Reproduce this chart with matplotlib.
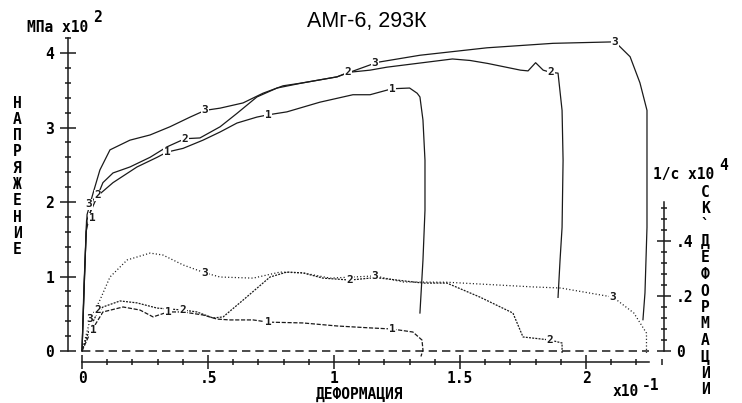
"""AMg-6 at 293K: stress and strain-rate vs deformation."""

import matplotlib.pyplot as plt
from matplotlib.ticker import MultipleLocator, FixedLocator, FixedFormatter

plt.rcParams["font.family"] = ["DejaVu Sans Mono"]
plt.rcParams["font.weight"] = "bold"
plt.rcParams["lines.scale_dashes"] = False

INK = "#1a1a1a"

# stress curves, x in 1e-1, y in 1e2 MPa
s1_x = [0, 0.008, 0.016, 0.044, 0.123, 0.218, 0.298, 0.337, 0.401, 0.480, 0.548, 0.615, 0.694,
        0.738, 0.813, 0.944, 1.075, 1.143, 1.23, 1.30, 1.33, 1.341, 1.353, 1.361, 1.361, 1.353, 1.341]
s1_y = [0, 0.8, 1.6, 2.03, 2.26, 2.47, 2.60, 2.67, 2.72, 2.83, 2.94, 3.06, 3.14,
        3.17, 3.21, 3.34, 3.44, 3.44, 3.52, 3.53, 3.46, 3.41, 3.10, 2.56, 1.89, 1.22, 0.51]

s2_x = [0, 0.008, 0.018, 0.06, 0.083, 0.123, 0.190, 0.270, 0.337, 0.409, 0.468, 0.548, 0.615,
        0.694, 0.774, 0.877, 1.012, 1.056, 1.143, 1.21, 1.47, 1.54, 1.61, 1.74, 1.77, 1.80,
        1.83, 1.86, 1.889, 1.905, 1.909, 1.905, 1.897, 1.889]
s2_y = [0, 0.8, 1.75, 2.07, 2.26, 2.39, 2.47, 2.60, 2.74, 2.85, 2.86, 3.01, 3.19,
        3.41, 3.53, 3.60, 3.68, 3.74, 3.77, 3.81, 3.92, 3.90, 3.86, 3.77, 3.76, 3.87,
        3.77, 3.74, 3.73, 3.23, 2.56, 1.66, 1.22, 0.72]

s3_x = [0, 0.008, 0.02, 0.044, 0.071, 0.111, 0.190, 0.270, 0.349, 0.429, 0.488, 0.548, 0.639,
        0.718, 0.798, 0.877, 1.012, 1.143, 1.163, 1.341, 1.607, 1.869, 2.115, 2.175, 2.214,
        2.242, 2.242, 2.242, 2.234, 2.226]
s3_y = [0, 0.9, 1.83, 2.12, 2.43, 2.70, 2.83, 2.90, 3.01, 3.14, 3.23, 3.26, 3.33,
        3.46, 3.56, 3.60, 3.68, 3.84, 3.87, 3.97, 4.07, 4.13, 4.15, 3.95, 3.60,
        3.23, 2.56, 1.66, 0.78, 0.42]

# strain-rate curves, y in 1e4 1/s
r1_x = [0, 0.032, 0.083, 0.163, 0.230, 0.282, 0.341, 0.40, 0.480, 0.536, 0.587, 0.679, 0.738,
        0.877, 1.012, 1.143, 1.230, 1.313, 1.349, 1.353, 1.345]
r1_y = [0, 0.065, 0.142, 0.16, 0.149, 0.124, 0.142, 0.142, 0.131, 0.116, 0.113, 0.113, 0.105,
        0.102, 0.091, 0.084, 0.08, 0.069, 0.04, 0.004, -0.02]

r2_x = [0, 0.03, 0.06, 0.083, 0.151, 0.218, 0.298, 0.401, 0.456, 0.520, 0.560, 0.639, 0.746,
        0.813, 0.877, 0.956, 1.063, 1.143, 1.183, 1.353, 1.448, 1.579, 1.710, 1.750, 1.857,
        1.905, 1.905]
r2_y = [0, 0.08, 0.138, 0.16, 0.182, 0.175, 0.156, 0.149, 0.142, 0.12, 0.124, 0.185, 0.269,
        0.287, 0.284, 0.265, 0.258, 0.265, 0.265, 0.247, 0.247, 0.196, 0.138, 0.051, 0.040,
        0.029, -0.007]

r3_x = [0, 0.032, 0.071, 0.111, 0.179, 0.270, 0.321, 0.401, 0.488, 0.548, 0.679, 0.786, 0.877,
        0.984, 1.163, 1.274, 1.45, 1.79, 1.90, 2.107, 2.19, 2.24, 2.24]
r3_y = [0, 0.113, 0.185, 0.269, 0.331, 0.356, 0.349, 0.313, 0.284, 0.269, 0.265, 0.287, 0.284,
        0.265, 0.273, 0.251, 0.25, 0.233, 0.229, 0.196, 0.138, 0.065, -0.007]

# curve number tags: (text, x, y)
stress_tags = [("1", 0.04, 1.78), ("3", 0.028, 1.97), ("2", 0.062, 2.09),
               ("1", 0.337, 2.67), ("2", 0.409, 2.85), ("3", 0.488, 3.23),
               ("1", 0.738, 3.17), ("2", 1.056, 3.74), ("3", 1.163, 3.87),
               ("1", 1.23, 3.52), ("2", 1.86, 3.74), ("3", 2.115, 4.15)]
rate_tags = [("1", 0.044, 0.076), ("3", 0.03, 0.118), ("2", 0.062, 0.15),
             ("1", 0.341, 0.142), ("2", 0.401, 0.149), ("3", 0.488, 0.284),
             ("1", 0.738, 0.105), ("2", 1.063, 0.258), ("3", 1.163, 0.273),
             ("1", 1.23, 0.08), ("2", 1.857, 0.04), ("3", 2.107, 0.196)]

x_ticks = [0, 0.5, 1, 1.5, 2]
x_labels = ["0", ".5", "1", "1.5", "2"]
left_ticks = [0, 1, 2, 3, 4]
right_ticks = [0, 0.2, 0.4]
right_labels = ["0", ".2", ".4"]

W, H = 742, 403
fig = plt.figure(figsize=(W / 100, H / 100), dpi=100)
ax = fig.add_axes([68 / W, 1 - 362 / H, 596 / W, 325 / H])
ax.set_xlim(-0.0556, 2.3095)
ax.set_ylim(-0.1477, 4.215)
rt = ax.twinx()
rt.set_ylim(-0.04, 1.1418)

for sp in ["top", "right"]:
    ax.spines[sp].set_visible(False)
for sp in ["top", "left", "bottom"]:
    rt.spines[sp].set_visible(False)
ax.spines["left"].set_bounds(0, 4.2)
ax.spines["bottom"].set_bounds(0, 2.25)
rt.spines["right"].set_bounds(0, 0.54)
for s in [ax.spines["left"], ax.spines["bottom"], rt.spines["right"]]:
    s.set_color(INK)
    s.set_linewidth(1.1)

ax.xaxis.set_major_locator(FixedLocator(x_ticks))
ax.xaxis.set_major_formatter(FixedFormatter(x_labels))
ax.xaxis.set_minor_locator(MultipleLocator(0.1))
ax.yaxis.set_major_locator(FixedLocator(left_ticks))
ax.yaxis.set_minor_locator(FixedLocator([i * 0.2 for i in range(22)]))
rt.yaxis.set_major_locator(FixedLocator(right_ticks))
rt.yaxis.set_major_formatter(FixedFormatter(right_labels))
rt.yaxis.set_minor_locator(FixedLocator([i * 0.04 for i in range(14)]))

ax.tick_params(axis="x", which="major", direction="inout", length=9.5, width=1.1, pad=1.5,
               labelsize=10.5, color=INK)
ax.tick_params(axis="x", which="minor", direction="inout", length=4, width=1.1, color=INK)
ax.tick_params(axis="y", which="major", direction="inout", length=12, width=1.1, pad=4,
               labelsize=10.5, color=INK)
ax.tick_params(axis="y", which="minor", direction="inout", length=5, width=1.1, color=INK)
rt.tick_params(axis="y", which="major", direction="inout", length=10.5, width=1.1, pad=3.5,
               labelsize=10.5, color=INK)
rt.tick_params(axis="y", which="minor", direction="inout", length=4, width=1.1, color=INK)

ax.plot([0, 2.25], [0, 0], color=INK, lw=1.1, ls=(0, (6, 3.6)))

for xs, ys in [(s1_x, s1_y), (s2_x, s2_y), (s3_x, s3_y)]:
    ax.plot(xs, ys, color=INK, lw=0.9)

rt.plot(r1_x, r1_y, color=INK, lw=0.9, ls=(0, (3, 1.2)))
rt.plot(r2_x, r2_y, color=INK, lw=0.9, ls=(0, (1.4, 0.9)))
rt.plot(r3_x, r3_y, color=INK, lw=0.9, ls=(0, (0.8, 1.6)))

box = dict(facecolor="white", edgecolor="none", pad=0.3)
for t, x, y in stress_tags:
    ax.text(x, y, t, fontsize=8, ha="center", va="center", color=INK, bbox=box)
for t, x, y in rate_tags:
    rt.text(x, y, t, fontsize=8, ha="center", va="center", color=INK, bbox=box)

# titles and stacked axis names
fig.text(367 / W, 1 - 21 / H, "АМг-6, 293К", family="Liberation Sans", weight="normal",
         fontsize=15.5, ha="center", va="center")
fig.text(27 / W, 1 - 28 / H, "МПа x10", fontsize=10.5, ha="left", va="center")
fig.text(93 / W, 1 - 17 / H, "2", fontsize=10.5, ha="left", va="center")
fig.text(653 / W, 1 - 174 / H, "1/c x10", fontsize=10.5, ha="left", va="center")
fig.text(719 / W, 1 - 165 / H, "4", fontsize=10.5, ha="left", va="center")
fig.text(359 / W, 1 - 394 / H, "ДЕФОРМАЦИЯ", fontsize=10.5, ha="center", va="center")
fig.text(613 / W, 1 - 392 / H, "x10", fontsize=10.5, ha="left", va="center")
fig.text(642 / W, 1 - 385 / H, "-1", fontsize=10.5, ha="left", va="center")

for i, ch in enumerate("НАПРЯЖЕНИЕ"):
    fig.text(17 / W, 1 - (103 + 16.3 * i) / H, ch, fontsize=10.5, ha="center", va="center")
for i, ch in enumerate("СК`ДЕФОРМАЦИИ"):
    fig.text(705 / W, 1 - (192 + 16.5 * i) / H, ch, fontsize=10.5, ha="center", va="center")

fig.savefig("out.png", dpi=100)
